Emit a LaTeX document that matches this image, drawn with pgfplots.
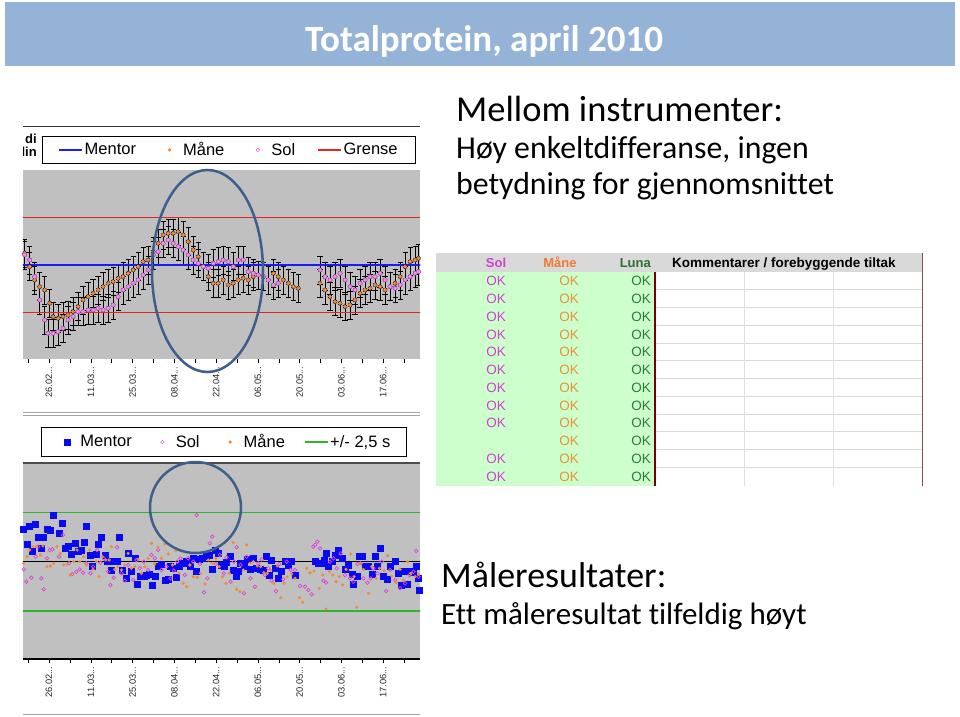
\documentclass[border=0pt]{standalone}
\usepackage{pgfplots}
\pgfplotsset{compat=1.18}
\usepackage{pgfplotstable}
\usepackage{fontspec}
\setmainfont{Carlito}[Ligatures=NoCommon]
\newfontfamily\arial{Liberation Sans}

\definecolor{banner}{HTML}{95B3D7}
\definecolor{plotgray}{HTML}{C0C0C0}
\definecolor{mentorblue}{HTML}{1C1CF0}
\definecolor{squareblue}{HTML}{0A0AF0}
\definecolor{maneorange}{HTML}{F28A3C}
\definecolor{solmag}{HTML}{D94AD9}
\definecolor{grensered}{HTML}{E52420}
\definecolor{plusgreen}{HTML}{2DB52D}
\definecolor{ringblue}{HTML}{3E5F8C}
\definecolor{tablegreen}{HTML}{CCFFCC}
\definecolor{headgray}{HTML}{D9D9D9}
\definecolor{okmag}{HTML}{CC44CC}
\definecolor{okorange}{HTML}{E8913A}
\definecolor{okgreen}{HTML}{2F7A35}
\definecolor{headorange}{HTML}{F07A35}
\definecolor{headgreen}{HTML}{336E33}

\newcommand{\dd}{.\kern0pt.\kern0pt.}

% top chart: x = pixel position, y = pixel height
\pgfplotstableread{
zx zy
15 400
30 440
45 480
60 500
75 510
90 550
100 590
115 595
130 590
145 585
160 575
175 560
190 540
205 530
220 520
235 510
250 500
265 490
280 485
295 475
310 470
325 460
340 450
355 440
370 425
385 420
400 395
415 370
430 345
445 340
460 340
475 335
490 345
505 365
520 390
535 410
550 440
565 470
580 490
595 490
610 480
625 495
640 490
655 480
670 475
685 480
700 470
715 465
730 470
745 480
760 460
775 470
790 480
805 490
820 500
835 505
900 490
915 510
930 530
945 545
960 550
975 560
990 555
1005 540
1020 520
1035 510
1050 505
1065 495
1080 500
1095 510
1110 500
1125 490
1140 470
1155 440
1170 425
1185 420
1195 415
}\topmane

\pgfplotstableread{
zx zy
15 405
30 420
45 470
60 540
75 600
85 640
100 640
115 635
130 625
145 600
160 590
175 575
190 575
205 570
220 570
235 565
250 570
265 565
280 555
295 530
310 510
325 500
340 490
355 480
370 465
385 450
400 405
415 395
430 370
445 360
460 370
475 380
490 390
505 405
520 420
535 430
550 440
565 445
580 430
595 425
610 420
625 425
640 440
655 420
670 420
685 455
700 460
715 465
730 470
745 480
760 495
775 490
900 450
915 470
930 480
945 470
960 460
975 480
990 500
1005 510
1020 490
1035 480
1050 470
1065 470
1080 460
1095 480
1110 500
1125 505
1140 495
1155 480
1170 470
1185 460
1195 455
}\topsol

\pgfplotstableread{
zx zy
12 358
22 402
28 348
38 425
48 343
55 383
65 415
72 381
82 357
92 362
100 315
118 370
128 340
135 415
145 408
155 432
165 400
175 425
185 422
192 396
200 348
210 435
218 470
228 432
236 403
245 383
255 435
262 455
275 480
282 455
292 455
298 381
308 480
318 505
326 430
335 485
345 445
353 522
362 500
372 500
380 495
388 493
398 525
406 498
415 470
425 463
435 510
445 507
452 468
460 475
468 502
478 470
488 460
498 455
505 460
512 470
520 445
530 485
538 448
548 445
558 440
568 435
578 478
585 420
595 430
605 465
612 470
620 458
630 440
640 480
648 500
655 485
662 460
672 470
682 448
692 478
700 445
710 475
720 478
730 480
740 438
748 495
755 450
765 475
775 505
785 485
795 455
805 465
815 455
825 497
885 455
895 460
905 460
912 450
918 430
925 470
935 455
945 435
955 420
965 445
975 478
985 465
995 492
1000 522
1010 500
1018 438
1025 438
1035 470
1045 468
1055 492
1065 438
1072 468
1080 415
1090 500
1100 508
1110 470
1125 455
1135 490
1142 525
1150 485
1160 522
1168 485
1178 488
1188 470
1193 505
1198 540
}\botmentor

\pgfplotstableread{
zx zy
12 478
20 515
35 503
48 440
55 410
65 505
72 538
82 445
90 420
98 418
118 440
130 375
148 460
158 492
170 485
180 478
190 488
200 460
212 490
220 470
232 420
242 458
252 445
265 485
272 525
282 503
292 412
305 490
315 512
325 465
340 510
350 450
360 475
372 455
385 480
395 435
405 445
415 420
425 480
440 470
452 505
462 482
472 455
482 445
495 495
505 445
520 455
530 315
540 462
552 547
562 505
570 400
577 380
588 462
600 435
612 490
620 442
632 515
642 455
650 412
662 465
672 550
680 440
692 505
705 530
715 460
725 448
735 495
745 475
755 512
768 543
778 462
790 508
800 455
812 480
825 480
840 528
855 530
865 540
875 553
880 410
885 405
892 395
900 415
910 512
918 518
930 455
940 445
950 475
962 430
975 495
990 505
1000 515
1012 462
1022 460
1030 505
1042 518
1052 505
1060 475
1072 490
1085 455
1098 543
1110 480
1125 510
1140 535
1155 520
1168 495
1180 485
1188 423
1195 500
}\botsol

\pgfplotstableread{
zx zy
12 460
22 440
30 420
40 410
50 410
62 435
70 408
82 470
92 468
102 460
112 410
122 430
132 465
142 462
152 495
162 455
172 420
180 455
192 440
200 465
210 420
220 478
230 455
238 500
248 440
258 450
268 450
275 410
285 478
295 470
305 480
315 465
325 430
335 475
345 470
355 448
365 490
375 470
385 445
395 400
405 462
415 412
425 445
435 402
445 432
458 465
468 422
478 490
490 520
500 530
510 465
520 500
532 502
542 490
555 522
565 450
578 460
588 445
598 470
608 500
618 520
628 490
640 398
650 538
660 545
670 480
680 405
690 460
700 455
712 468
722 470
732 488
742 490
752 480
762 520
772 468
782 563
792 520
802 500
815 492
825 505
838 563
848 577
860 475
870 488
882 483
898 535
908 495
918 597
928 485
938 495
948 515
958 500
968 525
978 478
992 432
1002 500
1010 592
1020 460
1030 478
1045 550
1055 470
1068 505
1078 475
1092 482
1102 437
1115 498
1128 518
1140 478
1150 512
1162 455
1172 490
1185 500
1195 493
}\botmane

\pgfplotsset{
  linelegend/.style={legend image code/.code={\path[draw=none,fill=none] (0pt,-3pt) rectangle (23pt,3pt); \draw[##1] (0pt,0pt) -- (23pt,0pt);}},
  markleg/.style={legend image code/.code={\path[draw=none,fill=none] (0pt,-3pt) rectangle (23pt,3pt); \draw[mark repeat=2,mark phase=2,##1] plot coordinates {(0pt,0pt) (11.5pt,0pt) (23pt,0pt)};}},
  qcchart/.style={
    scale only axis, width=397pt,
    xmin=-8.72, xmax=124.3,
    axis background/.style={fill=plotgray},
    axis line style={draw=none},
    ytick=\empty,
    xtick={0,14,28,42,56,70,84,98,112},
    xticklabels={{26.02\dd},{11.03\dd},{25.03\dd},{08.04\dd},{22.04\dd},{06.05\dd},{20.05\dd},{03.06\dd},{17.06\dd}},
    minor xtick={-7,7,21,35,49,63,77,91,105,119},
    xtick pos=bottom,
    tick align=outside,
    major tick length=4pt, minor tick length=4pt,
    every tick/.style={black, line width=0.6pt},
    xticklabel style={rotate=90, anchor=east, font=\arial\fontsize{9.3}{10}\selectfont, text=black!85},
    legend columns=4,
    legend cell align=left,
  },
}

\begin{document}
\begin{tikzpicture}
\useasboundingbox (0pt,0pt) rectangle (960pt,716pt);
\fill[white] (0pt,0pt) rectangle (960pt,716pt);

\begin{scope}[x=1pt, y=-1pt, shift={(0pt,716pt)}]
  % title banner
  \fill[banner] (5,2) rectangle (955,66);
  \node[anchor=base, text=white, font=\bfseries\fontsize{37}{40}\selectfont] at (484,52) {Totalprotein, april 2010};
  % right texts
  \node[anchor=base west, inner sep=0pt, font=\fontsize{36.5}{40}\selectfont] at (456,121.7) {Mellom instrumenter:};
  \node[anchor=base west, inner sep=0pt, font=\fontsize{31.8}{36}\selectfont] at (456,158.3) {Høy enkeltdifferanse, ingen};
  \node[anchor=base west, inner sep=0pt, font=\fontsize{31.8}{36}\selectfont] at (456,195) {betydning for gjennomsnittet};
  \node[anchor=base west, inner sep=0pt, font=\fontsize{35.9}{40}\selectfont] at (441,587.3) {Måleresultater:};
  \node[anchor=base west, inner sep=0pt, font=\fontsize{31}{36}\selectfont] at (441,624) {Ett måleresultat tilfeldig høyt};
  % chart frames
  \draw[black!80, line width=1.2pt] (23,126.5) -- (420,126.5);
  \draw[gray!70, line width=0.8pt] (23,412.8) -- (420,412.8);
  \draw[gray!70, line width=0.8pt] (23,415.3) -- (420,415.3);
  \draw[gray!70, line width=1pt] (23,714) -- (420,714);
  \begin{scope}
    \clip (23,130) rectangle (38,165);
    \node[anchor=base west, inner sep=0pt, font=\arial\bfseries\fontsize{13}{15}\selectfont] at (25,143.5) {di};
    \node[anchor=base east, inner sep=0pt, font=\arial\bfseries\fontsize{13}{15}\selectfont] at (37,156.5) {alin};
  \end{scope}
  % table
  \fill[headgray] (436,253) rectangle (922,272);
  \fill[tablegreen] (436,272) rectangle (654,486);
  \foreach \k in {1,...,11} {
    \draw[gray!30, line width=0.8pt] (656,{272+17.75*\k}) -- (922,{272+17.75*\k});
  }
  \draw[gray!25, line width=0.8pt] (744,272) -- (744,486);
  \draw[gray!25, line width=0.8pt] (833,272) -- (833,486);
  \draw[red!45!black, line width=2.5pt] (655,272) -- (655,486);
  \draw[red!35!black!70, line width=0.8pt] (922,253) -- (922,486);
  \node[anchor=base, inner sep=0pt, text=okmag, font=\arial\bfseries\fontsize{13}{15}\selectfont] at (496,267) {Sol};
  \node[anchor=base, inner sep=0pt, text=headorange, font=\arial\bfseries\fontsize{13}{15}\selectfont] at (560,267) {Måne};
  \node[anchor=base east, inner sep=0pt, text=headgreen, font=\arial\bfseries\fontsize{13}{15}\selectfont] at (651,267) {Luna};
  \node[anchor=base west, inner sep=0pt, text=black, font=\arial\bfseries\fontsize{13.5}{15}\selectfont] at (672,267) {Kommentarer / forebyggende tiltak};
  \foreach \k in {1,...,12} {
    \ifnum\k=10\else
      \node[anchor=base, inner sep=0pt, text=okmag, font=\arial\fontsize{13.5}{15}\selectfont] at (496,{272+17.75*\k-4}) {OK};
    \fi
    \node[anchor=base, inner sep=0pt, text=okorange, font=\arial\fontsize{13.5}{15}\selectfont] at (569,{272+17.75*\k-4}) {OK};
    \node[anchor=base east, inner sep=0pt, text=okgreen, font=\arial\fontsize{13.5}{15}\selectfont] at (651,{272+17.75*\k-4}) {OK};
  }
\end{scope}

% ---------- top chart ----------
\begin{axis}[qcchart,
  at={(23pt,356.7pt)}, anchor=south west, height=189.3pt,
  ymin=-283, ymax=285,
  legend style={at={(0.519,1.106)}, anchor=center, draw=black, fill=white,
    inner xsep=16pt, inner ysep=4pt,
    font=\arial\fontsize{16.5}{18}\selectfont,
    /tikz/every even column/.append style={column sep=20pt}},
]
\addlegendimage{mentorblue, line width=1.3pt, linelegend}\addlegendentry{Mentor}
\addlegendimage{only marks, mark=*, mark size=1.5pt, maneorange, markleg}\addlegendentry{Måne}
\addlegendimage{only marks, mark=o, mark size=1.8pt, solmag, markleg}\addlegendentry{Sol}
\addlegendimage{grensered, line width=1.3pt, linelegend}\addlegendentry{Grense}

\addplot[forget plot, only marks, mark=none,
  error bars/.cd, y dir=both, y fixed=42,
  error bar style={black, line width=0.6pt},
  error mark options={black, rotate=90, mark size=2.6pt, line width=0.6pt}]
  table[x expr={(\thisrow{zx}-88)*7/62.6}, y expr={435-\thisrow{zy}}] {\topmane};
\addplot[forget plot, only marks, mark=none,
  error bars/.cd, y dir=both, y fixed=42,
  error bar style={black, line width=0.6pt},
  error mark options={black, rotate=90, mark size=2.6pt, line width=0.6pt}]
  table[x expr={(\thisrow{zx}-88)*7/62.6}, y expr={435-\thisrow{zy}}] {\topsol};
\addplot[forget plot, only marks, mark=*, mark size=1.8pt, draw=maneorange, fill=maneorange]
  table[x expr={(\thisrow{zx}-88)*7/62.6}, y expr={435-\thisrow{zy}}] {\topmane};
\addplot[forget plot, only marks, mark=*, mark size=2pt, draw=solmag, fill=solmag!60]
  table[x expr={(\thisrow{zx}-88)*7/62.6}, y expr={435-\thisrow{zy}}] {\topsol};
\addplot[forget plot, mentorblue, line width=1.3pt] coordinates {(-10,0) (130,0)};
\addplot[forget plot, grensered, line width=1.3pt] coordinates {(-10,142.5) (130,142.5)};
\addplot[forget plot, grensered, line width=1.3pt] coordinates {(-10,-142.5) (130,-142.5)};
\end{axis}

% ---------- bottom chart ----------
\begin{axis}[qcchart,
  at={(23pt,56.7pt)}, anchor=south west, height=196.6pt,
  ymin=-293, ymax=297,
  legend style={at={(0.506,1.105)}, anchor=center, draw=black, fill=white,
    inner xsep=14pt, inner ysep=5pt,
    font=\arial\fontsize{16.5}{18}\selectfont,
    /tikz/every even column/.append style={column sep=17pt}},
]
\addlegendimage{only marks, mark=square*, mark size=3pt, squareblue, markleg}\addlegendentry{Mentor}
\addlegendimage{only marks, mark=o, mark size=1.8pt, solmag, markleg}\addlegendentry{Sol}
\addlegendimage{only marks, mark=*, mark size=1.5pt, maneorange, markleg}\addlegendentry{Måne}
\addlegendimage{plusgreen, line width=1.3pt, linelegend}\addlegendentry{+/- 2,5 s}

\addplot[forget plot, black, line width=1.6pt] coordinates {(-10,0) (130,0)};
\addplot[forget plot, plusgreen, line width=1.2pt] coordinates {(-10,148) (130,148)};
\addplot[forget plot, plusgreen, line width=1.2pt] coordinates {(-10,-148) (130,-148)};
\addplot[forget plot, only marks, mark=square*, mark size=3pt, draw=squareblue, fill=squareblue]
  table[x expr={(\thisrow{zx}-88)*7/62.6}, y expr={455-\thisrow{zy}}] {\botmentor};
\addplot[forget plot, only marks, mark=o, mark size=1.8pt, draw=solmag, line width=0.7pt]
  table[x expr={(\thisrow{zx}-88)*7/62.6}, y expr={455-\thisrow{zy}}] {\botsol};
\addplot[forget plot, only marks, mark=*, mark size=1.4pt, draw=maneorange, fill=maneorange]
  table[x expr={(\thisrow{zx}-88)*7/62.6}, y expr={455-\thisrow{zy}}] {\botmane};
\draw[black!70, line width=2pt] (rel axis cs:0,1) -- (rel axis cs:1,1);
\draw[black, line width=2pt] (rel axis cs:0,0) -- (rel axis cs:1,0);
\end{axis}

% rings
\begin{scope}[x=1pt, y=-1pt, shift={(0pt,716pt)}]
  \draw[ringblue, line width=2.5pt] (207.5,271) ellipse [x radius=55.5, y radius=101];
  \draw[ringblue, line width=2.5pt] (195.5,507.5) circle [radius=45.5];
\end{scope}
\end{tikzpicture}
\end{document}
